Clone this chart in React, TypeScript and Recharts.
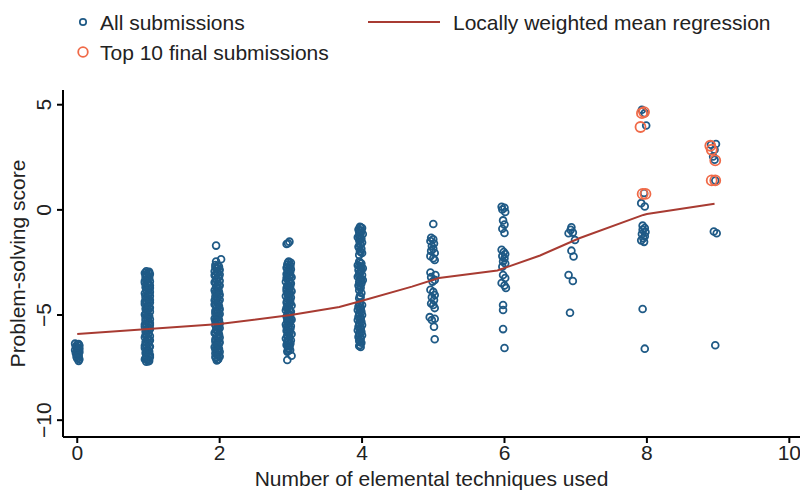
import React from 'react';
import { ScatterChart, Scatter, XAxis, YAxis } from 'recharts';

// [x, y] pairs, one list per technique count
const col0 = [[-0.03,-6.36],[0.02,-6.38],[0.03,-6.45],[-0.02,-6.5],[0.0,-6.56],[0.03,-6.6],[-0.03,-6.66],[0.01,-6.7],[0.03,-6.76],[-0.02,-6.8],[0.0,-6.86],[0.02,-6.92],[-0.01,-6.98],[0.02,-7.03],[0.03,-7.1],[0.02,-7.18]];
const col0b = [[0.0,-6.4],[-0.01,-6.53],[0.01,-6.63],[0.0,-6.73],[-0.01,-6.83],[0.01,-6.95],[0.0,-7.07]];
const col1 = [[0.97,-2.92],[1.01,-2.95],[0.95,-3.0],[1.02,-3.05],[0.98,-3.12],[0.96,-3.2],[1.01,-3.26],[0.97,-3.34],[1.02,-3.4],[0.95,-3.47],[0.99,-3.55],[1.02,-3.6],[0.96,-3.68],[1.0,-3.75],[0.97,-3.82],[1.02,-3.9],[0.95,-3.97],[0.99,-4.04],[1.02,-4.1],[0.96,-4.18],[1.0,-4.25],[0.97,-4.33],[1.02,-4.4],[0.95,-4.47],[0.99,-4.54],[1.01,-4.62],[0.96,-4.7],[0.99,-4.76],[1.02,-4.84],[0.97,-4.9],[0.95,-4.98],[1.01,-5.05],[0.98,-5.12],[1.02,-5.2],[0.96,-5.27],[1.0,-5.34],[0.97,-5.42],[1.02,-5.48],[0.95,-5.56],[0.99,-5.63],[1.01,-5.7],[0.96,-5.78],[1.0,-5.85],[0.97,-5.92],[1.02,-6.0],[0.95,-6.06],[0.99,-6.14],[1.02,-6.2],[0.96,-6.28],[1.0,-6.35],[0.97,-6.42],[1.02,-6.5],[0.95,-6.57],[0.99,-6.64],[1.01,-6.72],[0.96,-6.8],[1.0,-6.86],[0.97,-6.94],[1.02,-7.0],[0.96,-7.06],[0.99,-7.12],[1.01,-7.18],[0.97,-7.22]];
const col1b = [[1.0,-2.98],[0.96,-3.08],[1.01,-3.16],[0.98,-3.3],[0.95,-3.38],[1.0,-3.51],[0.97,-3.63],[1.02,-3.71],[0.98,-3.86],[1.01,-3.99],[0.96,-4.07],[0.99,-4.21],[1.02,-4.29],[0.95,-4.36],[1.0,-4.5],[0.97,-4.58],[1.02,-4.66],[0.98,-4.8],[0.96,-4.94],[1.0,-5.02],[0.96,-5.16],[0.99,-5.24],[1.02,-5.38],[0.95,-5.45],[0.98,-5.52],[1.02,-5.66],[0.97,-5.74],[1.0,-5.88],[0.96,-5.96],[0.99,-6.1],[1.01,-6.24],[0.97,-6.31],[0.95,-6.46],[1.01,-6.53],[0.97,-6.68],[0.99,-6.76],[1.02,-6.9],[0.98,-7.03],[0.95,-7.1],[1.0,-7.2]];
const col2 = [[1.95,-1.7],[1.95,-2.46],[2.02,-2.35],[1.94,-2.62],[1.99,-2.7],[1.96,-2.78],[2.0,-2.85],[1.93,-2.92],[1.97,-3.0],[2.0,-3.07],[1.94,-3.15],[1.98,-3.22],[1.95,-3.3],[2.0,-3.37],[1.93,-3.44],[1.97,-3.52],[2.0,-3.6],[1.95,-3.67],[1.98,-3.74],[1.93,-3.82],[1.99,-3.9],[1.96,-3.97],[2.0,-4.04],[1.94,-4.12],[1.97,-4.2],[2.0,-4.27],[1.95,-4.34],[1.98,-4.42],[1.93,-4.5],[1.99,-4.57],[1.96,-4.64],[2.0,-4.72],[1.94,-4.8],[1.97,-4.87],[2.0,-4.95],[1.95,-5.02],[1.98,-5.1],[1.93,-5.17],[1.99,-5.24],[1.96,-5.32],[2.0,-5.4],[1.94,-5.47],[1.97,-5.55],[2.0,-5.62],[1.95,-5.7],[1.98,-5.77],[1.93,-5.85],[1.99,-5.92],[1.96,-6.0],[2.0,-6.07],[1.94,-6.15],[1.97,-6.22],[2.0,-6.3],[1.95,-6.37],[1.98,-6.45],[1.93,-6.52],[1.99,-6.6],[1.96,-6.67],[2.0,-6.75],[1.94,-6.82],[1.97,-6.9],[2.0,-6.97],[1.95,-7.04],[1.98,-7.1],[1.96,-7.16]];
const col2b = [[1.97,-2.66],[1.94,-2.74],[1.99,-2.88],[1.96,-2.96],[1.93,-3.11],[1.99,-3.19],[1.96,-3.33],[1.94,-3.48],[1.99,-3.56],[1.96,-3.7],[1.97,-3.86],[1.94,-3.93],[1.99,-4.08],[1.96,-4.16],[1.93,-4.3],[1.98,-4.38],[1.95,-4.53],[1.99,-4.68],[1.96,-4.76],[1.94,-4.91],[1.98,-4.98],[1.96,-5.13],[1.94,-5.28],[1.99,-5.36],[1.95,-5.51],[1.98,-5.59],[1.96,-5.73],[1.94,-5.88],[1.99,-5.96],[1.97,-6.11],[1.94,-6.26],[1.99,-6.34],[1.96,-6.48],[1.94,-6.63],[1.98,-6.71],[1.96,-6.86],[1.99,-6.93],[1.94,-7.0],[1.97,-7.13]];
const col3 = [[2.94,-1.62],[2.98,-1.51],[2.96,-1.59],[2.95,-7.14],[3.01,-6.94],[2.97,-2.46],[3.0,-2.52],[2.95,-2.6],[2.99,-2.68],[2.94,-2.75],[3.0,-2.82],[2.96,-2.9],[2.99,-2.97],[2.94,-3.05],[2.98,-3.12],[3.01,-3.2],[2.95,-3.27],[2.98,-3.35],[2.93,-3.42],[3.0,-3.5],[2.96,-3.57],[2.99,-3.65],[2.94,-3.72],[2.98,-3.8],[3.01,-3.87],[2.95,-3.95],[2.98,-4.02],[2.93,-4.1],[3.0,-4.17],[2.96,-4.25],[2.99,-4.32],[2.94,-4.4],[2.98,-4.47],[3.01,-4.55],[2.95,-4.62],[2.98,-4.7],[2.93,-4.77],[3.0,-4.85],[2.96,-4.92],[2.99,-5.0],[2.94,-5.07],[2.98,-5.15],[3.01,-5.22],[2.95,-5.3],[2.98,-5.37],[2.93,-5.45],[3.0,-5.52],[2.96,-5.6],[2.99,-5.67],[2.94,-5.75],[2.98,-5.82],[3.01,-5.9],[2.95,-5.97],[2.98,-6.05],[2.93,-6.12],[3.0,-6.2],[2.96,-6.27],[2.99,-6.35],[2.94,-6.42],[2.98,-6.5],[2.96,-6.58],[2.99,-6.66],[2.95,-6.74]];
const col3b = [[2.96,-2.5],[2.99,-2.64],[2.95,-2.79],[2.98,-2.86],[2.96,-3.0],[2.99,-3.16],[2.94,-3.24],[2.97,-3.38],[2.99,-3.46],[2.95,-3.61],[2.97,-3.76],[2.94,-3.84],[2.99,-3.98],[2.96,-4.06],[2.98,-4.21],[2.95,-4.36],[2.99,-4.44],[2.96,-4.58],[2.94,-4.66],[2.99,-4.81],[2.96,-4.96],[2.98,-5.04],[2.95,-5.18],[2.99,-5.26],[2.96,-5.41],[2.94,-5.56],[2.99,-5.64],[2.96,-5.78],[2.98,-5.86],[2.95,-6.01],[2.97,-6.16],[2.95,-6.24],[2.99,-6.38],[2.96,-6.46],[2.97,-6.62],[2.96,-6.7]];
const col4 = [[3.97,-0.8],[4.0,-0.86],[3.95,-0.93],[3.99,-1.0],[3.96,-1.08],[4.01,-1.15],[3.97,-1.22],[3.94,-1.3],[3.99,-1.37],[3.96,-1.45],[4.0,-1.55],[3.98,-1.65],[3.95,-1.75],[3.99,-1.85],[3.97,-1.95],[4.0,-2.05],[3.96,-2.14],[3.96,-2.46],[3.99,-2.55],[3.94,-2.63],[3.98,-2.7],[4.01,-2.78],[3.95,-2.86],[3.98,-2.94],[3.96,-3.02],[4.0,-3.1],[3.94,-3.18],[3.98,-3.26],[4.01,-3.34],[3.96,-3.42],[3.99,-3.5],[3.95,-3.6],[3.98,-3.7],[3.96,-3.82],[3.99,-3.95],[3.97,-4.08],[3.96,-4.2],[3.97,-4.43],[4.0,-4.52],[3.95,-4.6],[3.98,-4.68],[3.94,-4.76],[3.99,-4.84],[3.96,-4.92],[4.0,-5.0],[3.95,-5.08],[3.98,-5.16],[3.94,-5.24],[3.99,-5.32],[3.96,-5.4],[4.0,-5.48],[3.95,-5.56],[3.98,-5.64],[3.94,-5.72],[3.99,-5.8],[3.96,-5.88],[4.0,-5.96],[3.95,-6.04],[3.98,-6.12],[3.96,-6.22],[3.99,-6.32],[3.97,-6.42],[3.98,-6.52]];
const col4b = [[3.98,-0.83],[3.96,-0.96],[3.98,-1.12],[3.96,-1.26],[3.98,-1.41],[3.97,-1.6],[3.96,-1.8],[3.98,-2.0],[3.97,-2.5],[3.96,-2.67],[3.99,-2.82],[3.97,-2.98],[3.96,-3.14],[3.99,-3.3],[3.97,-3.46],[3.96,-3.65],[3.98,-4.14],[3.96,-4.48],[3.98,-4.64],[3.97,-4.8],[3.96,-4.96],[3.98,-5.12],[3.97,-5.28],[3.96,-5.44],[3.98,-5.6],[3.97,-5.76],[3.96,-5.92],[3.98,-6.08],[3.97,-6.27],[3.96,-6.47]];
const col5 = [[5.0,-0.67],[4.97,-1.33],[5.0,-1.4],[4.96,-1.48],[5.01,-1.6],[4.98,-1.72],[5.0,-1.85],[4.97,-1.95],[5.02,-2.05],[4.96,-2.2],[5.0,-2.3],[5.02,-2.38],[4.96,-2.98],[5.03,-3.1],[4.97,-3.2],[5.02,-3.33],[4.99,-3.41],[4.96,-3.8],[5.0,-3.9],[5.02,-4.05],[4.98,-4.15],[5.01,-4.29],[4.97,-4.45],[5.0,-4.52],[5.02,-4.67],[4.95,-5.1],[5.02,-5.18],[4.98,-5.24],[5.01,-5.56],[5.02,-6.15]];
const col6 = [[5.96,0.15],[6.0,0.1],[5.97,0.02],[6.01,-0.1],[5.98,-0.5],[6.0,-0.7],[5.97,-0.9],[6.0,-1.1],[5.96,-1.9],[5.99,-2.0],[6.01,-2.1],[5.97,-2.2],[6.0,-2.3],[5.98,-2.45],[6.01,-2.55],[5.97,-2.7],[5.98,-3.1],[6.01,-3.24],[5.96,-3.48],[6.0,-3.6],[6.02,-3.71],[5.98,-4.52],[5.98,-4.76],[5.98,-5.67],[6.0,-6.57]];
const col7 = [[6.94,-0.83],[6.93,-0.95],[6.9,-1.11],[6.96,-1.08],[6.99,-1.43],[6.94,-1.94],[6.97,-2.22],[6.9,-3.1],[6.96,-3.38],[6.92,-4.89]];
const col8 = [[7.93,4.76],[7.97,4.6],[7.99,4.01],[7.96,0.8],[7.92,0.32],[7.97,0.16],[7.94,-0.75],[7.97,-0.86],[7.94,-0.95],[7.98,-1.05],[7.93,-1.15],[7.97,-1.25],[7.95,-1.35],[7.92,-1.45],[7.96,-1.52],[7.94,-4.71],[7.97,-6.6]];
const col9 = [[8.9,3.1],[8.97,3.13],[8.95,2.86],[8.93,2.54],[8.95,2.38],[8.96,1.4],[8.94,-1.03],[8.98,-1.11],[8.96,-6.44]];
const top10 = [[7.93,4.6],[7.96,4.65],[7.91,3.94],[7.94,0.76],[7.98,0.76],[8.89,3.05],[8.91,2.86],[8.96,2.35],[8.91,1.4],[8.96,1.4]];
const lowess = [[0,-5.9],[1,-5.67],[2,-5.43],[3,-5.0],[3.68,-4.62],[4,-4.32],[4.7,-3.65],[5.08,-3.24],[5.9,-2.88],[6.5,-2.17],[7.05,-1.35],[7.95,-0.24],[8.0,-0.2],[8.95,0.29]];

const xTicks = [0, 2, 4, 6, 8, 10];
const yTicks = [-10, -5, 0, 5];

const BLUE = '#1f5a86';
const ORANGE = '#f06a48';
const RED = '#a83b32';
const FONT = '"Liberation Sans", Arial, Helvetica, sans-serif';
const FS = 21;

const toXY = (arr: number[][]) => arr.map(([x, y]) => ({ x, y }));
const allPoints = toXY([
  ...col0, ...col0b, ...col1, ...col1b, ...col2, ...col2b, ...col3, ...col3b,
  ...col4, ...col4b, ...col5, ...col6, ...col7, ...col8, ...col9,
]);
const topPoints = toXY(top10);
const lineData = toXY(lowess);

const fmt = (v: number) => (v < 0 ? '\u2212' + Math.abs(v) : String(v));

const YTick = (props: any) => {
  const { x, y, payload } = props;
  const tx = x - 4;
  return (
    <text x={tx} y={y} transform={`rotate(-90 ${tx} ${y})`} textAnchor="middle" fontSize={FS} fill="#222" fontFamily={FONT}>
      {fmt(payload.value)}
    </text>
  );
};

export default function App() {
  return (
    <div style={{ position: 'relative', width: 800, height: 490, fontFamily: FONT, background: '#fff' }}>
      <style>{`body{margin:0}`}</style>
      <svg width={800} height={80} style={{ position: 'absolute', left: 0, top: 0 }}>
        <circle cx={83} cy={22} r={3.2} fill="none" stroke={BLUE} strokeWidth={1.7} />
        <circle cx={83} cy={52} r={4.8} fill="none" stroke={ORANGE} strokeWidth={1.8} />
        <line x1={368} y1={22} x2={440} y2={22} stroke={RED} strokeWidth={2} />
        <text x={100} y={30} fontSize={FS} fill="#222" fontFamily={FONT}>All submissions</text>
        <text x={100} y={60} fontSize={FS} fill="#222" fontFamily={FONT}>Top 10 final submissions</text>
        <text x={453} y={30} fontSize={FS} fill="#222" fontFamily={FONT}>Locally weighted mean regression</text>
      </svg>
      <div style={{ position: 'absolute', left: 0, top: 0 }}>
        <ScatterChart width={800} height={490} margin={{ top: 90, right: 0, bottom: 0, left: 0 }}>
          <XAxis
            type="number"
            dataKey="x"
            domain={[-0.2, 10.15]}
            ticks={xTicks}
            allowDataOverflow
            height={53}
            tickSize={6}
            axisLine={{ stroke: '#000', strokeWidth: 2 }}
            tickLine={{ stroke: '#000', strokeWidth: 2 }}
            tick={{ fontSize: FS, fill: '#222', fontFamily: FONT }}
            label={{ value: 'Number of elemental techniques used', position: 'insideBottom', offset: 4, fontSize: FS, fill: '#222', fontFamily: FONT }}
          />
          <YAxis
            type="number"
            dataKey="y"
            domain={[-10.8, 5.7]}
            ticks={yTicks}
            allowDataOverflow
            width={63}
            tickSize={6}
            axisLine={{ stroke: '#000', strokeWidth: 2 }}
            tickLine={{ stroke: '#000', strokeWidth: 2 }}
            tick={<YTick />}
            label={{ value: 'Problem-solving score', angle: -90, position: 'insideLeft', offset: 18, fontSize: FS, fill: '#222', fontFamily: FONT, style: { textAnchor: 'middle' } }}
          />
          <Scatter
            data={allPoints}
            isAnimationActive={false}
            shape={(p: any) => <circle cx={p.cx} cy={p.cy} r={3.4} fill="none" stroke={BLUE} strokeWidth={1.8} />}
          />
          <Scatter
            data={lineData}
            isAnimationActive={false}
            line={{ stroke: RED, strokeWidth: 2 }}
            lineType="joint"
            shape={() => <g />}
          />
          <Scatter
            data={topPoints}
            isAnimationActive={false}
            shape={(p: any) => <circle cx={p.cx} cy={p.cy} r={5} fill="none" stroke={ORANGE} strokeWidth={1.8} />}
          />
        </ScatterChart>
      </div>
    </div>
  );
}
